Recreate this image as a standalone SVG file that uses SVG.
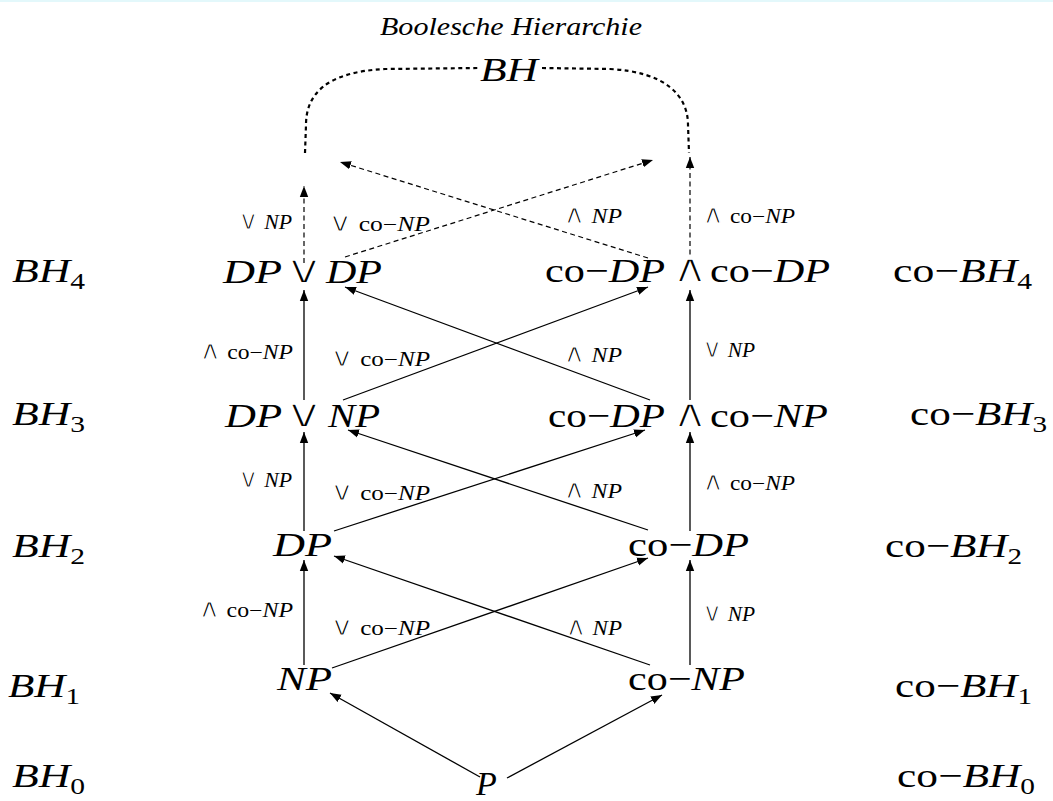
<svg xmlns="http://www.w3.org/2000/svg" width="1053" height="801" viewBox="0 0 1053 801">
<defs>
<marker id="ah" markerWidth="12" markerHeight="10" refX="11" refY="5" orient="auto" markerUnits="userSpaceOnUse">
<path d="M0,0.8 L11,5 L0,9.2 Z" fill="#000"/>
</marker>
</defs>
<style>
text{font-family:"Liberation Serif","DejaVu Serif",serif;fill:#000}
.big{font-size:34px}
.lbl{font-size:20px}
.side{font-size:34px}
.i{font-style:italic}
.op{font-family:"DejaVu Sans",sans-serif;font-size:40px;stroke:#fff;stroke-width:1.8;text-anchor:middle}
.ops{font-family:"DejaVu Sans",sans-serif;font-size:26px;stroke:#fff;stroke-width:1.2}
.sub{font-size:23px}
.solid{stroke:#000;stroke-width:1.3;fill:none;marker-end:url(#ah)}
.dash{stroke:#000;stroke-width:1.2;fill:none;stroke-dasharray:5 3.5;marker-end:url(#ah)}
.dot{stroke:#000;stroke-width:2.2;fill:none;stroke-dasharray:4 3.5}
</style>
<rect x="0" y="0" width="1053" height="801" fill="#fff"/>
<rect x="0" y="0" width="1053" height="2" fill="#e3f8fb"/>

<text x="380" y="35" class="i" font-size="25" textLength="262" lengthAdjust="spacingAndGlyphs">Boolesche Hierarchie</text>

<g id="connectors">
<path class="dot" d="M305,153 L306,125 C306,95 325,72 385,69 L478,68"/>
<path class="dot" d="M542,68 L610,69 C665,72 688,95 688,125 L689,153"/>
<path class="dash" d="M304,263 L304,186"/>
<path class="dash" d="M690,263 L690,157"/>
<path class="dash" d="M345,257 L653,160"/>
<path class="dash" d="M648,258 L340,162"/>
<path class="solid" d="M304,400 L304,290"/>
<path class="solid" d="M690,400 L690,290"/>
<path class="solid" d="M343,400 L648,287"/>
<path class="solid" d="M650,400 L345,287"/>
<path class="solid" d="M304,531 L304,432"/>
<path class="solid" d="M690,531 L690,432"/>
<path class="solid" d="M334,531 L645,430"/>
<path class="solid" d="M648,530 L348,430"/>
<path class="solid" d="M304,665 L304,560"/>
<path class="solid" d="M690,665 L690,560"/>
<path class="solid" d="M332,668 L648,558"/>
<path class="solid" d="M650,665 L334,556"/>
<path class="solid" d="M480,777 L330,693"/>
<path class="solid" d="M507,778 L662,695"/>
</g>

<g id="edge-labels" class="lbl">
<text x="238" y="229" textLength="54" lengthAdjust="spacingAndGlyphs"><tspan class="ops">∨</tspan> <tspan class="i">NP</tspan></text>
<text x="328" y="231" textLength="102" lengthAdjust="spacingAndGlyphs"><tspan class="ops">∨</tspan> co−<tspan class="i">NP</tspan></text>
<text x="563" y="223" textLength="59" lengthAdjust="spacingAndGlyphs"><tspan class="ops">∧</tspan> <tspan class="i">NP</tspan></text>
<text x="702" y="223" textLength="93" lengthAdjust="spacingAndGlyphs"><tspan class="ops">∧</tspan> co−<tspan class="i">NP</tspan></text>

<text x="199" y="359" textLength="94" lengthAdjust="spacingAndGlyphs"><tspan class="ops">∧</tspan> co−<tspan class="i">NP</tspan></text>
<text x="330" y="366" textLength="100" lengthAdjust="spacingAndGlyphs"><tspan class="ops">∨</tspan> co−<tspan class="i">NP</tspan></text>
<text x="563" y="362" textLength="59" lengthAdjust="spacingAndGlyphs"><tspan class="ops">∧</tspan> <tspan class="i">NP</tspan></text>
<text x="702" y="357" textLength="53" lengthAdjust="spacingAndGlyphs"><tspan class="ops">∨</tspan> <tspan class="i">NP</tspan></text>

<text x="238" y="487" textLength="54" lengthAdjust="spacingAndGlyphs"><tspan class="ops">∨</tspan> <tspan class="i">NP</tspan></text>
<text x="330" y="500" textLength="100" lengthAdjust="spacingAndGlyphs"><tspan class="ops">∨</tspan> co−<tspan class="i">NP</tspan></text>
<text x="563" y="498" textLength="59" lengthAdjust="spacingAndGlyphs"><tspan class="ops">∧</tspan> <tspan class="i">NP</tspan></text>
<text x="702" y="490" textLength="93" lengthAdjust="spacingAndGlyphs"><tspan class="ops">∧</tspan> co−<tspan class="i">NP</tspan></text>

<text x="198" y="617" textLength="95" lengthAdjust="spacingAndGlyphs"><tspan class="ops">∧</tspan> co−<tspan class="i">NP</tspan></text>
<text x="330" y="635" textLength="100" lengthAdjust="spacingAndGlyphs"><tspan class="ops">∨</tspan> co−<tspan class="i">NP</tspan></text>
<text x="565" y="635" textLength="57" lengthAdjust="spacingAndGlyphs"><tspan class="ops">∧</tspan> <tspan class="i">NP</tspan></text>
<text x="702" y="621" textLength="53" lengthAdjust="spacingAndGlyphs"><tspan class="ops">∨</tspan> <tspan class="i">NP</tspan></text>
</g>

<g id="node-BH"><text class="big i" x="480" y="81" textLength="58" lengthAdjust="spacingAndGlyphs">BH</text></g>
<g id="node-DPorDP" class="big">
<text class="i" x="223" y="283" textLength="59" lengthAdjust="spacingAndGlyphs">DP</text>
<text class="op" transform="translate(304,283) scale(1.4,1)">∨</text>
<text class="i" x="326" y="283" textLength="56" lengthAdjust="spacingAndGlyphs">DP</text>
</g>
<g id="node-coDPandcoDP" class="big">
<text x="545" y="282" textLength="120" lengthAdjust="spacingAndGlyphs">co−<tspan class="i">DP</tspan></text>
<text class="op" transform="translate(690,282) scale(1.3,1)">∧</text>
<text x="710" y="282" textLength="120" lengthAdjust="spacingAndGlyphs">co−<tspan class="i">DP</tspan></text>
</g>
<g id="node-DPorNP" class="big">
<text class="i" x="225" y="427" textLength="57" lengthAdjust="spacingAndGlyphs">DP</text>
<text class="op" transform="translate(304,427) scale(1.4,1)">∨</text>
<text class="i" x="328" y="427" textLength="52" lengthAdjust="spacingAndGlyphs">NP</text>
</g>
<g id="node-coDPandcoNP" class="big">
<text x="548" y="427" textLength="117" lengthAdjust="spacingAndGlyphs">co−<tspan class="i">DP</tspan></text>
<text class="op" transform="translate(690,427) scale(1.3,1)">∧</text>
<text x="710" y="427" textLength="118" lengthAdjust="spacingAndGlyphs">co−<tspan class="i">NP</tspan></text>
</g>
<g id="node-DP"><text class="big i" x="273" y="556" textLength="59" lengthAdjust="spacingAndGlyphs">DP</text></g>
<g id="node-coDP"><text class="big" x="628" y="556" textLength="121" lengthAdjust="spacingAndGlyphs">co−<tspan class="i">DP</tspan></text></g>
<g id="node-NP"><text class="big i" x="277" y="690" textLength="55" lengthAdjust="spacingAndGlyphs">NP</text></g>
<g id="node-coNP"><text class="big" x="628" y="690" textLength="117" lengthAdjust="spacingAndGlyphs">co−<tspan class="i">NP</tspan></text></g>
<g id="node-P"><text class="big i" x="476" y="795">P</text></g>

<g id="levels-left" class="side">
<text x="12" y="282" textLength="73" lengthAdjust="spacingAndGlyphs"><tspan class="i">BH</tspan><tspan class="sub" dy="7">4</tspan></text>
<text x="12" y="425" textLength="73" lengthAdjust="spacingAndGlyphs"><tspan class="i">BH</tspan><tspan class="sub" dy="7">3</tspan></text>
<text x="12" y="557" textLength="73" lengthAdjust="spacingAndGlyphs"><tspan class="i">BH</tspan><tspan class="sub" dy="7">2</tspan></text>
<text x="8" y="697" textLength="72" lengthAdjust="spacingAndGlyphs"><tspan class="i">BH</tspan><tspan class="sub" dy="7">1</tspan></text>
<text x="12" y="787" textLength="73" lengthAdjust="spacingAndGlyphs"><tspan class="i">BH</tspan><tspan class="sub" dy="7">0</tspan></text>
</g>
<g id="levels-right" class="side">
<text x="893" y="282" textLength="139" lengthAdjust="spacingAndGlyphs">co−<tspan class="i">BH</tspan><tspan class="sub" dy="7">4</tspan></text>
<text x="910" y="425" textLength="137" lengthAdjust="spacingAndGlyphs">co−<tspan class="i">BH</tspan><tspan class="sub" dy="7">3</tspan></text>
<text x="885" y="557" textLength="137" lengthAdjust="spacingAndGlyphs">co−<tspan class="i">BH</tspan><tspan class="sub" dy="7">2</tspan></text>
<text x="895" y="697" textLength="137" lengthAdjust="spacingAndGlyphs">co−<tspan class="i">BH</tspan><tspan class="sub" dy="7">1</tspan></text>
<text x="897" y="787" textLength="138" lengthAdjust="spacingAndGlyphs">co−<tspan class="i">BH</tspan><tspan class="sub" dy="7">0</tspan></text>
</g>
</svg>
